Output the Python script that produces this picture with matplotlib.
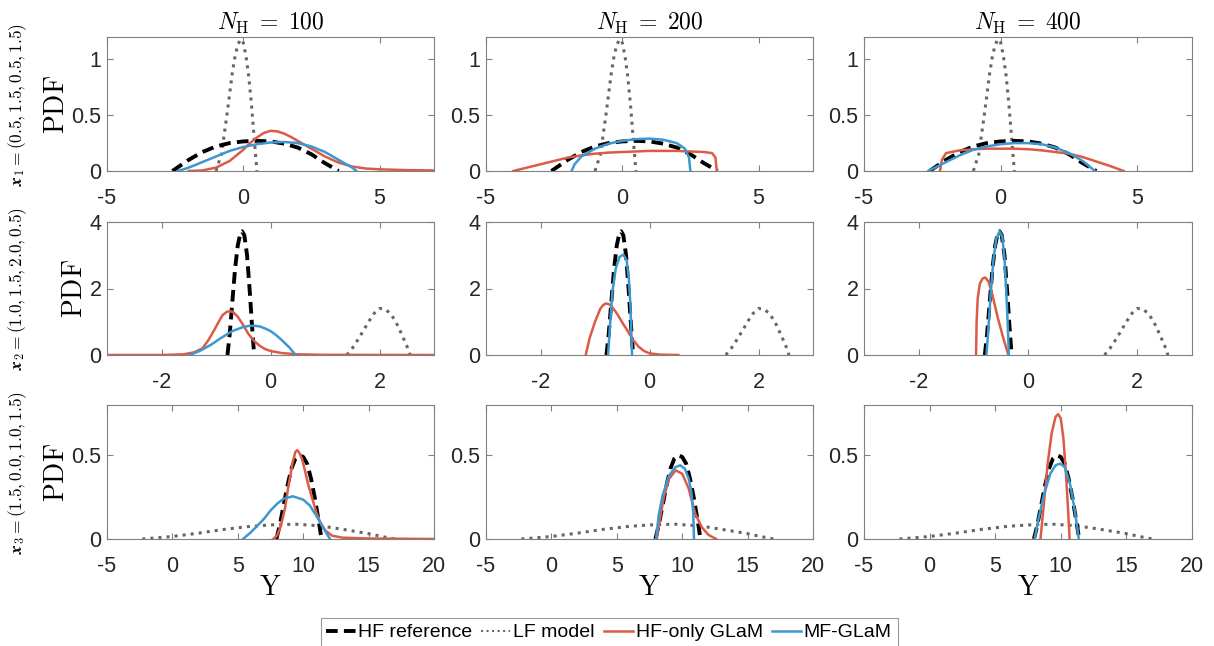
import matplotlib
matplotlib.use("Agg")
import matplotlib.pyplot as plt
from matplotlib.lines import Line2D

plt.rcParams['font.family'] = ['Liberation Sans', 'DejaVu Sans']
plt.rcParams['mathtext.fontset'] = 'cm'

# ---- data ----
titles = ['$N_\\mathrm{H} \\;=\\; 100$', '$N_\\mathrm{H} \\;=\\; 200$', '$N_\\mathrm{H} \\;=\\; 400$']
row_labels = ['$\\boldsymbol{x}_1 = (0.5, 1.5, 0.5, 1.5)$',
              '$\\boldsymbol{x}_2 = (1.0, 1.5, 2.0, 0.5)$',
              '$\\boldsymbol{x}_3 = (1.5, 0.0, 1.0, 1.5)$']
legend_names = ['HF reference', 'LF model', 'HF-only GLaM', 'MF-GLaM']

xlims = [(-5, 7), (-3, 3), (-5, 20)]
ylims = [(0, 1.2), (0, 4), (0, 0.8)]
xticks = [[-5, 0, 5], [-2, 0, 2], [-5, 0, 5, 10, 15, 20]]
yticks = [[0, 0.5, 1], [0, 2, 4], [0, 0.5]]
ytick_labels = [['0', '0.5', '1'], ['0', '2', '4'], ['0', '0.5']]

# row 1
hf_x1 = [-2.6, -2.0, -1.5, -1.0, -0.5, 0.0, 0.5, 1.0, 1.5, 2.0, 2.5, 3.0, 3.5]
hf_y1 = [0.0, 0.10, 0.17, 0.22, 0.25, 0.265, 0.27, 0.265, 0.245, 0.21, 0.15, 0.07, 0.0]
lf_x1 = [-1.0, -0.8, -0.6, -0.4, -0.3, -0.2, -0.1, 0.0, 0.1, 0.2, 0.3, 0.4, 0.5]
lf_y1 = [0.0, 0.15, 0.5, 0.88, 1.03, 1.13, 1.18, 1.15, 1.03, 0.85, 0.6, 0.3, 0.0]
red_x11 = [-2.0, -1.5, -1.0, -0.5, -0.25, 0.0, 0.25, 0.5, 0.75, 1.0, 1.25, 1.5, 1.75, 2.0,
           2.5, 3.0, 3.5, 4.0, 4.5, 5.0, 6.0, 7.0]
red_y11 = [0.0, 0.005, 0.03, 0.09, 0.14, 0.19, 0.25, 0.3, 0.34, 0.36, 0.355, 0.335, 0.305, 0.27,
           0.2, 0.13, 0.075, 0.04, 0.022, 0.015, 0.008, 0.005]
blue_x11 = [-2.4, -2.0, -1.5, -1.0, -0.5, 0.0, 0.5, 1.0, 1.5, 2.0, 2.5, 3.0, 3.5, 4.0, 4.15]
blue_y11 = [0.0, 0.03, 0.08, 0.13, 0.18, 0.215, 0.24, 0.255, 0.26, 0.25, 0.22, 0.17, 0.1, 0.03, 0.0]
red_x12 = [-4.0, -3.5, -3.0, -2.5, -2.0, -1.5, -1.0, -0.5, 0.0, 0.5, 1.0, 1.5, 2.0, 2.5, 3.0, 3.3, 3.42, 3.47]
red_y12 = [0.0, 0.03, 0.06, 0.09, 0.12, 0.14, 0.155, 0.165, 0.17, 0.175, 0.18, 0.18, 0.18, 0.175, 0.17, 0.16, 0.12, 0.0]
blue_x12 = [-1.86, -1.75, -1.5, -1.0, -0.5, 0.0, 0.5, 1.0, 1.5, 2.0, 2.3, 2.45, 2.5]
blue_y12 = [0.0, 0.06, 0.13, 0.2, 0.245, 0.27, 0.285, 0.29, 0.28, 0.25, 0.2, 0.12, 0.0]
red_x13 = [-2.22, -2.15, -2.0, -1.5, -1.0, -0.5, 0.0, 0.5, 1.0, 1.5, 2.0, 2.5, 3.0, 3.5, 4.0, 4.5]
red_y13 = [0.0, 0.1, 0.16, 0.185, 0.195, 0.2, 0.2, 0.2, 0.195, 0.185, 0.17, 0.155, 0.125, 0.085, 0.045, 0.0]
blue_x13 = [-2.65, -2.0, -1.5, -1.0, -0.5, 0.0, 0.5, 1.0, 1.5, 2.0, 2.5, 3.0, 3.45]
blue_y13 = [0.0, 0.08, 0.14, 0.19, 0.22, 0.24, 0.25, 0.25, 0.24, 0.21, 0.16, 0.09, 0.0]

# row 2
hf_x2 = [-0.79, -0.75, -0.7, -0.65, -0.6, -0.55, -0.52, -0.48, -0.43, -0.38, -0.34, -0.3]
hf_y2 = [0.0, 0.6, 1.6, 2.6, 3.3, 3.68, 3.72, 3.6, 3.0, 1.9, 0.9, 0.0]
lf_x2 = [1.4, 1.5, 1.6, 1.7, 1.8, 1.9, 2.0, 2.1, 2.2, 2.3, 2.4, 2.5, 2.56]
lf_y2 = [0.0, 0.2, 0.45, 0.72, 1.0, 1.25, 1.4, 1.38, 1.25, 1.0, 0.65, 0.28, 0.0]
red_x21 = [-3.0, -2.0, -1.6, -1.4, -1.25, -1.15, -1.05, -0.95, -0.88, -0.8, -0.74, -0.68, -0.6,
           -0.5, -0.4, -0.3, -0.2, -0.1, 0.0, 0.2, 0.5, 1.0, 3.0]
red_y21 = [0.0, 0.0, 0.02, 0.08, 0.2, 0.42, 0.7, 1.0, 1.2, 1.3, 1.32, 1.28, 1.15,
           0.9, 0.62, 0.42, 0.28, 0.18, 0.12, 0.06, 0.02, 0.005, 0.0]
blue_x21 = [-1.48, -1.3, -1.1, -0.9, -0.7, -0.5, -0.4, -0.3, -0.2, -0.1, 0.0, 0.1, 0.2, 0.35, 0.46]
blue_y21 = [0.0, 0.12, 0.3, 0.52, 0.72, 0.84, 0.875, 0.88, 0.86, 0.8, 0.72, 0.6, 0.46, 0.22, 0.0]
red_x22 = [-1.17, -1.1, -1.0, -0.9, -0.85, -0.8, -0.75, -0.7, -0.6, -0.5, -0.4, -0.3, -0.2, -0.1, 0.0, 0.2, 0.53]
red_y22 = [0.0, 0.5, 1.0, 1.4, 1.5, 1.55, 1.53, 1.48, 1.25, 0.98, 0.72, 0.45, 0.25, 0.12, 0.05, 0.01, 0.0]
blue_x22 = [-0.76, -0.72, -0.68, -0.62, -0.55, -0.48, -0.42, -0.38, -0.35, -0.32]
blue_y22 = [0.0, 1.0, 1.9, 2.6, 2.95, 3.02, 2.85, 2.3, 1.5, 0.0]
red_x23 = [-0.95, -0.94, -0.92, -0.88, -0.83, -0.78, -0.72, -0.65, -0.55, -0.45, -0.36]
red_y23 = [0.0, 1.0, 1.7, 2.15, 2.3, 2.33, 2.2, 1.8, 1.1, 0.5, 0.0]
blue_x23 = [-0.76, -0.72, -0.68, -0.63, -0.58, -0.52, -0.47, -0.43, -0.4, -0.37, -0.35]
blue_y23 = [0.0, 0.9, 1.9, 2.9, 3.5, 3.72, 3.55, 2.9, 2.0, 0.9, 0.0]

# row 3
hf_x3 = [7.95, 8.2, 8.5, 8.8, 9.1, 9.4, 9.7, 10.0, 10.3, 10.6, 10.9, 11.2, 11.4]
hf_y3 = [0.0, 0.08, 0.2, 0.32, 0.42, 0.48, 0.5, 0.49, 0.45, 0.36, 0.24, 0.1, 0.0]
lf_x3 = [-2.3, 0.0, 2.0, 4.0, 6.0, 8.0, 9.5, 11.0, 12.0, 13.0, 14.0, 15.0, 16.0, 17.0]
lf_y3 = [0.0, 0.015, 0.035, 0.058, 0.076, 0.086, 0.088, 0.08, 0.07, 0.058, 0.045, 0.032, 0.015, 0.0]
red_x31 = [7.7, 8.0, 8.3, 8.6, 8.9, 9.2, 9.4, 9.55, 9.7, 9.9, 10.1, 10.4, 10.7, 11.0, 11.3,
           11.7, 12.2, 13.0, 15.0, 20.0]
red_y31 = [0.0, 0.02, 0.08, 0.18, 0.33, 0.46, 0.52, 0.53, 0.515, 0.48, 0.42, 0.32, 0.24, 0.16, 0.1,
           0.05, 0.02, 0.008, 0.003, 0.0]
blue_x31 = [5.4, 6.0, 6.5, 7.0, 7.5, 8.0, 8.5, 9.2, 10.0, 10.5, 11.0, 11.5, 12.05]
blue_y31 = [0.0, 0.04, 0.08, 0.12, 0.17, 0.21, 0.24, 0.255, 0.235, 0.2, 0.14, 0.07, 0.0]
red_x32 = [8.05, 8.3, 8.6, 9.0, 9.5, 10.0, 10.5, 11.0, 11.5, 12.0, 12.6]
red_y32 = [0.0, 0.12, 0.25, 0.36, 0.41, 0.39, 0.3, 0.15, 0.07, 0.025, 0.0]
blue_x32 = [8.0, 8.2, 8.5, 9.0, 9.5, 9.85, 10.2, 10.5, 10.7, 10.85, 10.9]
blue_y32 = [0.0, 0.14, 0.26, 0.38, 0.43, 0.44, 0.42, 0.36, 0.28, 0.15, 0.0]
red_x33 = [8.45, 8.7, 9.0, 9.3, 9.6, 9.8, 10.0, 10.2, 10.4, 10.55, 10.67]
red_y33 = [0.0, 0.2, 0.45, 0.63, 0.73, 0.745, 0.72, 0.6, 0.38, 0.18, 0.0]
blue_x33 = [8.0, 8.3, 8.7, 9.2, 9.6, 9.95, 10.3, 10.7, 11.0, 11.2, 11.37]
blue_y33 = [0.0, 0.12, 0.26, 0.39, 0.44, 0.45, 0.43, 0.33, 0.2, 0.1, 0.0]

hf = [(hf_x1, hf_y1), (hf_x2, hf_y2), (hf_x3, hf_y3)]
lf = [(lf_x1, lf_y1), (lf_x2, lf_y2), (lf_x3, lf_y3)]
red = [[(red_x11, red_y11), (red_x12, red_y12), (red_x13, red_y13)],
       [(red_x21, red_y21), (red_x22, red_y22), (red_x23, red_y23)],
       [(red_x31, red_y31), (red_x32, red_y32), (red_x33, red_y33)]]
blue = [[(blue_x11, blue_y11), (blue_x12, blue_y12), (blue_x13, blue_y13)],
        [(blue_x21, blue_y21), (blue_x22, blue_y22), (blue_x23, blue_y23)],
        [(blue_x31, blue_y31), (blue_x32, blue_y32), (blue_x33, blue_y33)]]

# ---- styles ----
c_hf = 'black'
c_lf = '#666666'
c_red = '#DB5B47'
c_blue = '#3C98CF'
axcol = '#808080'

W, H = 1214, 646
fig = plt.figure(figsize=(W / 100, H / 100), dpi=100)

col_left = [107, 486, 864]
col_w = [327, 327, 328]
row_top = [37, 222, 405]
row_h = [134, 133, 134]

for r in range(3):
    for c in range(3):
        ax = fig.add_axes([col_left[c] / W, 1 - (row_top[r] + row_h[r]) / H,
                           col_w[c] / W, row_h[r] / H])
        ax.plot(*lf[r], ls=':', color=c_lf, lw=2.2)
        ax.plot(*hf[r], ls='--', color=c_hf, lw=2.8, dashes=(3, 1.6))
        ax.plot(*red[r][c], '-', color=c_red, lw=1.8, solid_joinstyle='round')
        ax.plot(*blue[r][c], '-', color=c_blue, lw=1.8, solid_joinstyle='round')
        ax.set_xlim(*xlims[r])
        ax.set_ylim(*ylims[r])
        ax.set_xticks(xticks[r])
        ax.set_xticklabels([str(t) for t in xticks[r]])
        ax.set_yticks(yticks[r])
        ax.set_yticklabels(ytick_labels[r])
        ax.tick_params(direction='in', top=True, right=True, length=4,
                       width=0.8, color=axcol, labelsize=15.5, labelcolor='#262626')
        ax.tick_params(axis='x', pad=12)
        ax.tick_params(axis='y', pad=4)
        for s in ax.spines.values():
            s.set_color(axcol)
            s.set_linewidth(0.8)
        if r == 0:
            ax.set_title(titles[c], fontsize=17, pad=5)
        if c == 0:
            ax.set_ylabel('$\\mathrm{PDF}$', fontsize=20, labelpad=1)
        if r == 2:
            ax.set_xlabel('$\\mathrm{Y}$', fontsize=20, labelpad=-1)

for r in range(3):
    yc = 1 - (row_top[r] + row_h[r] / 2) / H
    fig.text(18 / W, yc, row_labels[r], rotation=90, ha='center', va='center',
             fontsize=12.5)

handles = [Line2D([], [], ls='--', color=c_hf, lw=2.8, dashes=(3, 1.6)),
           Line2D([], [], ls=':', color=c_lf, lw=1.5),
           Line2D([], [], color=c_red, lw=1.8),
           Line2D([], [], color=c_blue, lw=1.8)]
leg = fig.legend(handles, legend_names, loc='lower center', ncol=4,
                 bbox_to_anchor=(609 / W, -0.002), fontsize=14, frameon=True,
                 fancybox=False, handlelength=1.5, handletextpad=0.15,
                 columnspacing=0.45, borderpad=0.3, borderaxespad=0)
leg.get_frame().set_edgecolor(axcol)
leg.get_frame().set_linewidth(0.8)

fig.savefig('out.png', dpi=100)
